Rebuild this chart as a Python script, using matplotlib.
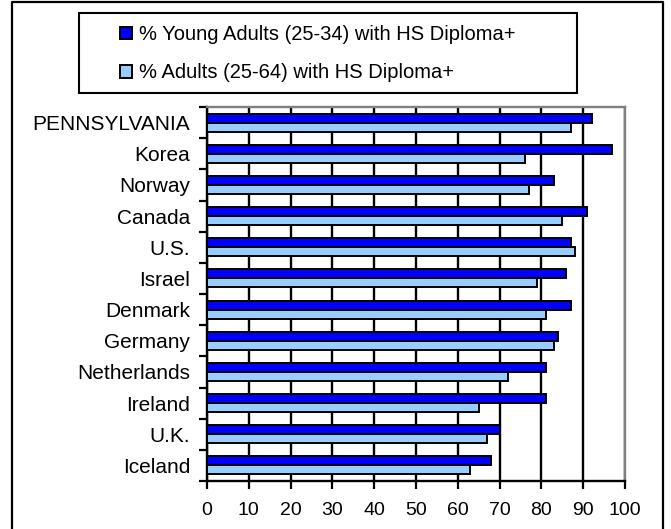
import matplotlib
matplotlib.use("Agg")
import matplotlib.pyplot as plt
import numpy as np
from matplotlib.patches import Rectangle, Patch
from matplotlib.lines import Line2D

categories = ["PENNSYLVANIA", "Korea", "Norway", "Canada", "U.S.", "Israel",
              "Denmark", "Germany", "Netherlands", "Ireland", "U.K.", "Iceland"]
young_adults = [92, 97, 83, 91, 87, 86, 87, 84, 81, 81, 70, 68]
all_adults = [87, 76, 77, 85, 88, 79, 81, 83, 72, 65, 67, 63]
series_labels = ["% Young Adults (25-34) with HS Diploma+",
                 "% Adults (25-64) with HS Diploma+"]
x_ticks = [0, 10, 20, 30, 40, 50, 60, 70, 80, 90, 100]

plt.rcParams['font.family'] = ['Liberation Sans', 'DejaVu Sans']

W, H = 671, 529
fig = plt.figure(figsize=(W / 100, H / 100), dpi=100)
ax = fig.add_axes([207 / W, 1 - 481 / H, (625 - 207) / W, (481 - 107) / H])

dark = "#0000FF"
light = "#99CCFF"
n = len(categories)
pos = np.arange(n)
h = 0.29
ax.barh(pos - h / 2, young_adults, height=h, color=dark, edgecolor="black",
        linewidth=1.4, zorder=3)
ax.barh(pos + h / 2, all_adults, height=h, color=light, edgecolor="black",
        linewidth=1.4, zorder=3)

ax.set_xlim(0, 100)
ax.set_ylim(n - 0.5, -0.5)
ax.set_xticks(x_ticks)
ax.set_xticklabels([str(t) for t in x_ticks], fontsize=14)
ax.set_yticks(pos)
ax.set_yticklabels(categories, fontsize=15)
ax.set_yticks(np.arange(-0.5, n, 1), minor=True)
ax.tick_params(axis="y", which="major", length=0, pad=12)
ax.tick_params(axis="y", which="minor", length=6, width=1.6, direction="out")
ax.tick_params(axis="x", which="major", length=6, width=1.6, direction="out", pad=9)

ax.xaxis.grid(True, color="black", linewidth=1.7, zorder=0)
ax.set_axisbelow(True)
for s in ["left", "bottom"]:
    ax.spines[s].set_color("black")
    ax.spines[s].set_linewidth(1.7)
for s in ["top", "right"]:
    ax.spines[s].set_color("#808080")
    ax.spines[s].set_linewidth(1.7)

# legend box and entries
fig.patches.append(Rectangle((79 / W, 1 - 93 / H), (577 - 79) / W, (93 - 13) / H,
                             transform=fig.transFigure, fill=False,
                             edgecolor="black", linewidth=1.5))
handles = [Patch(facecolor=dark, edgecolor="black", linewidth=1.4),
           Patch(facecolor=light, edgecolor="black", linewidth=1.4)]
fig.legend(handles, series_labels, loc="upper left",
           bbox_to_anchor=(104 / W, 1 - 9 / H), bbox_transform=fig.transFigure,
           frameon=False, fontsize=14.5, handlelength=0.6, handleheight=0.6,
           handletextpad=0.35, labelspacing=0.95, borderpad=0.3)

# outer frame
fig.lines.append(Line2D([12 / W, 12 / W, 663 / W, 663 / W],
                        [0, 1 - 1.5 / H, 1 - 1.5 / H, 0],
                        transform=fig.transFigure, color="black", linewidth=1.6))

fig.savefig("out.png", dpi=100)
